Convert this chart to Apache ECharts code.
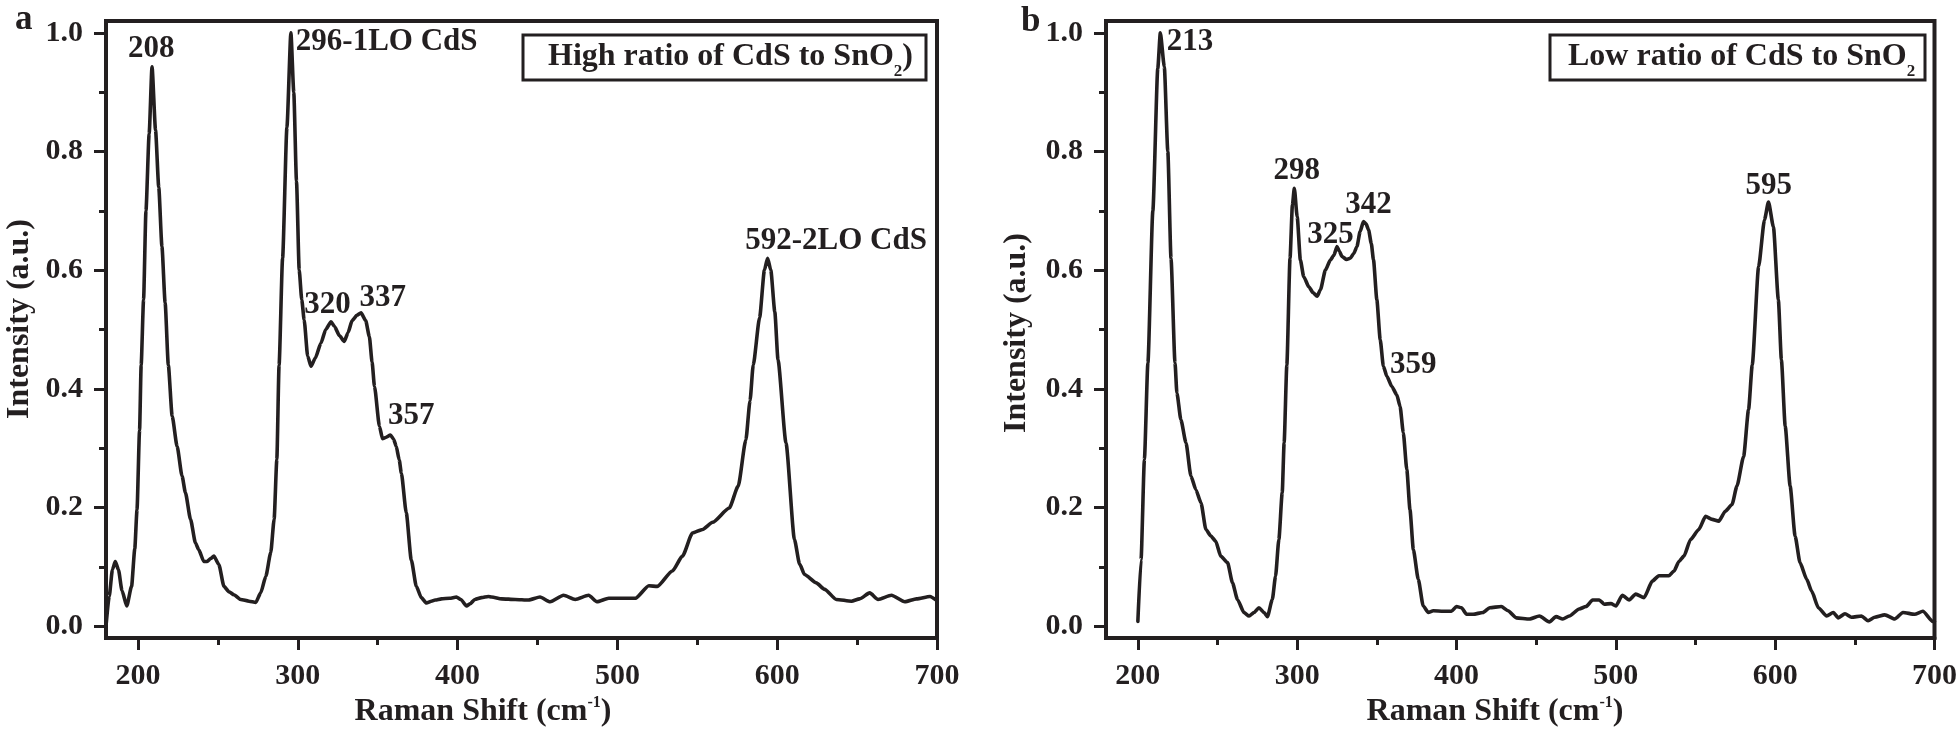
<!DOCTYPE html>
<html>
<head>
<meta charset="utf-8">
<script src="https://cdn.jsdelivr.net/npm/echarts@6/dist/echarts.min.js"></script>
<style>html,body{margin:0;padding:0;background:#fff}#c{width:1960px;height:732px}</style>
</head>
<body>
<div id="c"></div>
<script>
// ---------- data (Raman shift cm^-1, normalized intensity) ----------
const spectrumA = [[180,0.0],[182,0.05],[184,0.095],[185.8,0.109],[187.8,0.095],[190,0.06],[193,0.034],[196,0.067],[198,0.13],[199.4,0.196],[201,0.33],[202,0.44],[203.5,0.55],[205,0.70],[207,0.83],[208.8,0.943],[211,0.836],[213,0.74],[215,0.64],[217,0.545],[219,0.44],[221.4,0.354],[224.5,0.303],[227.6,0.253],[229.7,0.225],[232.9,0.18],[236,0.14],[238,0.129],[241.2,0.109],[243.3,0.109],[245.5,0.114],[247.5,0.118],[250.6,0.104],[253.8,0.067],[257,0.058],[260,0.053],[264.3,0.045],[269.5,0.042],[273.7,0.040],[276.8,0.056],[280,0.084],[283.1,0.124],[285.2,0.18],[286.9,0.281],[288.3,0.44],[290.5,0.62],[293.2,0.84],[295.7,1.0],[297.5,0.90],[299.2,0.75],[300.9,0.60],[302.5,0.55],[304,0.516],[306.2,0.455],[308.3,0.438],[311,0.452],[314.5,0.477],[317.5,0.50],[320.8,0.513],[323,0.505],[326,0.49],[329.1,0.48],[331.5,0.495],[334,0.515],[337,0.524],[339.6,0.528],[342.5,0.515],[344.8,0.488],[346.5,0.445],[348,0.404],[351.1,0.337],[353,0.316],[355,0.318],[358,0.322],[360,0.315],[361.6,0.303],[363.5,0.28],[364.8,0.258],[367.9,0.191],[371,0.112],[374.2,0.067],[377.3,0.048],[380.5,0.039],[383.6,0.042],[386,0.044],[389.9,0.046],[395,0.047],[399.3,0.049],[402,0.045],[405.6,0.034],[408,0.038],[410.8,0.045],[415,0.048],[419.2,0.050],[421.3,0.049],[427.6,0.046],[436,0.045],[444.4,0.044],[451.6,0.049],[457.9,0.041],[466.3,0.052],[473.6,0.045],[482,0.052],[487.2,0.041],[494.6,0.047],[505,0.047],[511.3,0.047],[519.7,0.068],[525,0.067],[534.4,0.093],[540.7,0.118],[547,0.157],[553.3,0.163],[559.6,0.175],[570,0.199],[575.6,0.236],[580.4,0.314],[583,0.38],[585,0.44],[589,0.52],[592,0.60],[594,0.62],[596,0.60],[598.5,0.53],[600.5,0.449],[605.5,0.309],[610.8,0.146],[614,0.105],[617.1,0.087],[624.4,0.073],[629.7,0.062],[637,0.045],[646.5,0.042],[651.6,0.046],[657.9,0.056],[663.1,0.045],[671.5,0.052],[679.9,0.041],[687.2,0.046],[695.6,0.050],[700,0.043]];

const spectrumB = [[200,0.008],[202,0.112],[204.1,0.281],[206.3,0.444],[209.4,0.70],[212.5,0.94],[214.1,1.0],[216.6,0.943],[218.8,0.80],[220.8,0.62],[223.3,0.444],[224.5,0.393],[227,0.348],[230.2,0.309],[233.3,0.253],[236.4,0.23],[239.6,0.208],[242.7,0.163],[245.8,0.152],[248.9,0.143],[252,0.118],[256.3,0.107],[259.4,0.073],[262.5,0.045],[266.6,0.023],[269.8,0.017],[272.9,0.023],[276,0.031],[279.2,0.023],[281.3,0.016],[284.4,0.045],[286.4,0.084],[288.5,0.146],[290.6,0.225],[291.8,0.309],[293.5,0.44],[295.5,0.62],[297,0.71],[298.2,0.738],[300,0.69],[302,0.617],[304.1,0.589],[307.3,0.572],[310,0.562],[312.5,0.556],[314.6,0.567],[317.7,0.60],[320.8,0.617],[323,0.625],[325,0.64],[326.5,0.632],[328.1,0.623],[331,0.618],[333.3,0.620],[335.5,0.628],[337.5,0.64],[339.5,0.665],[341.6,0.682],[343.2,0.678],[344.8,0.668],[346.5,0.645],[347.9,0.617],[350,0.55],[352.1,0.483],[354.1,0.438],[356.3,0.421],[359.4,0.404],[362.5,0.39],[364.6,0.37],[366.6,0.326],[368.8,0.264],[370.8,0.196],[372.9,0.129],[376,0.079],[379.1,0.034],[382.3,0.023],[385.4,0.026],[391.6,0.025],[396.8,0.025],[400,0.033],[403.1,0.031],[406.3,0.02],[410.4,0.02],[416.6,0.023],[420.8,0.031],[428.1,0.033],[432.3,0.026],[437.5,0.014],[445.8,0.012],[452,0.017],[458.3,0.007],[462.5,0.016],[466.7,0.012],[470.8,0.017],[477,0.029],[481.3,0.033],[485.4,0.044],[489.6,0.044],[492.7,0.037],[496.9,0.038],[500,0.034],[504.1,0.052],[508.3,0.044],[512.5,0.054],[517.7,0.048],[522.9,0.076],[527,0.085],[533.3,0.085],[536.5,0.093],[539.6,0.109],[542.7,0.118],[546.9,0.146],[552.1,0.163],[556.3,0.185],[560.4,0.18],[564.6,0.177],[568.8,0.194],[572.9,0.205],[576,0.236],[580.2,0.286],[583.3,0.365],[585.6,0.44],[589.6,0.606],[593.3,0.685],[595.8,0.715],[598.9,0.673],[602,0.55],[603.9,0.449],[606.3,0.337],[609.4,0.236],[612.5,0.152],[615.6,0.107],[619.8,0.079],[622.9,0.059],[627.1,0.031],[632.3,0.017],[636.5,0.023],[639.6,0.014],[643.8,0.021],[647.9,0.015],[654.2,0.017],[658.3,0.009],[662.5,0.015],[668.8,0.019],[675,0.012],[680.2,0.023],[687.5,0.02],[692.7,0.025],[698.9,0.008],[700,0.008]];

// peak annotations: [text, shift, intensity] (anchor of the label's left edge)
const peaksA = [['208',193.7,0.973],['296-1LO CdS',298.8,0.985],['320',304.0,0.542],['337',338.6,0.553],['357',356.4,0.355],['592-2LO CdS',580.0,0.650]];
const peaksB = [['213',218.1,0.984],['298',285.2,0.767],['325',306.3,0.659],['342',330.2,0.710],['359',358.3,0.441],['595',581.3,0.742]];

const xMajorTicks = [200,300,400,500,600,700];
const xMinorTicks = [250,350,450,550,650];
const yMajorTicks = [0,0.2,0.4,0.6,0.8,1.0];
const yMinorTicks = [0.1,0.3,0.5,0.7,0.9];

const panelLetters = ['a','b'];
const legendTexts = ['High ratio of CdS to SnO{sub|2})','Low ratio of CdS to SnO{sub|2}'];
const xTitle = 'Raman Shift (cm{sup|-1})';
const yTitle = 'Intensity (a.u.)';

// ---------- styling ----------
const INK = '#231f20';
const FONT = '"Times New Roman", "Liberation Serif", serif';
const gridsPx = [{left:106, top:21, width:831, height:617},{left:1106, top:21, width:831, height:617}];

const chart = echarts.init(document.getElementById('c'), null, {renderer:'canvas'});

const xAxes = [], yAxes = [], series = [];
gridsPx.forEach((g, gi) => {
  xAxes.push({gridIndex:gi, type:'value', min:180, max:700, position:'bottom',
    axisLine:{show:true, onZero:false, lineStyle:{color:INK, width:4}},
    axisTick:{show:true, inside:false, length:12, customValues:xMajorTicks, lineStyle:{color:INK, width:3}},
    axisLabel:{show:true, customValues:xMajorTicks, margin:23, fontSize:30, fontWeight:'bold', fontFamily:FONT, color:INK},
    splitLine:{show:false}});
  xAxes.push({gridIndex:gi, type:'value', min:180, max:700, position:'bottom',
    axisLine:{show:false, onZero:false},
    axisTick:{show:true, inside:false, length:7, customValues:xMinorTicks, lineStyle:{color:INK, width:3}},
    axisLabel:{show:false}, splitLine:{show:false}});
  yAxes.push({gridIndex:gi, type:'value', min:-0.02, max:1.02, position:'left',
    axisLine:{show:true, onZero:false, lineStyle:{color:INK, width:4}},
    axisTick:{show:true, inside:false, length:12, customValues:yMajorTicks, lineStyle:{color:INK, width:3}},
    axisLabel:{show:true, customValues:yMajorTicks, margin:23, fontSize:30, fontWeight:'bold', fontFamily:FONT, color:INK,
      formatter:v => Number(v).toFixed(1)},
    splitLine:{show:false}});
  yAxes.push({gridIndex:gi, type:'value', min:-0.02, max:1.02, position:'left',
    axisLine:{show:false, onZero:false},
    axisTick:{show:true, inside:false, length:7, customValues:yMinorTicks, lineStyle:{color:INK, width:3}},
    axisLabel:{show:false}, splitLine:{show:false}});
});

[[spectrumA, peaksA],[spectrumB, peaksB]].forEach(([spec, peaks], gi) => {
  series.push({type:'line', xAxisIndex:gi*2, yAxisIndex:gi*2, data:spec, symbol:'none',
    smooth:0.2, smoothMonotone:'x', lineStyle:{color:INK, width:3.6, join:'round', cap:'round'}, silent:true,
    markPoint:{symbol:'circle', symbolSize:0, silent:true,
      label:{show:true, position:'right', distance:0, formatter:'{b}', fontSize:31, fontWeight:'bold', fontFamily:FONT, color:INK},
      data:peaks.map(p => ({name:p[0], coord:[p[1], p[2]]}))}});
});

const textStyleBase = {fontFamily:FONT, fontWeight:'bold', fill:INK};
const graphics = [];
// panel letters
graphics.push({type:'text', x:15, y:19.5, style:Object.assign({text:panelLetters[0], fontSize:35, align:'left', verticalAlign:'middle'}, textStyleBase)});
graphics.push({type:'text', x:1021, y:21.5, style:Object.assign({text:panelLetters[1], fontSize:35, align:'left', verticalAlign:'middle'}, textStyleBase)});
// legend boxes
const boxes = [{x:523, y:35, w:403, h:45, tx:548},{x:1550, y:35, w:375, h:45, tx:1568}];
boxes.forEach((b, i) => {
  graphics.push({type:'rect', shape:{x:b.x, y:b.y, width:b.w, height:b.h}, style:{fill:'#fff', stroke:INK, lineWidth:3}, z:10});
  graphics.push({type:'text', x:b.tx, y:57, z:11, style:Object.assign({text:legendTexts[i], fontSize:32, align:'left', verticalAlign:'middle',
    rich:{sub:{fontSize:17, fontFamily:FONT, fontWeight:'bold', fill:INK, padding:[30,0,0,0]}}}, textStyleBase)});
});
// axis titles
[483, 1495].forEach(cx => {
  graphics.push({type:'text', x:cx, y:712, style:Object.assign({text:xTitle, fontSize:32, align:'center', verticalAlign:'middle',
    rich:{sup:{fontSize:16, fontFamily:FONT, fontWeight:'bold', fill:INK, padding:[0,0,18,0]}}}, textStyleBase)});
});
[[20.2, 319],[1017, 333]].forEach(([cx, cy]) => {
  graphics.push({type:'text', x:cx, y:cy, rotation:Math.PI/2, style:Object.assign({text:yTitle, fontSize:32, align:'center', verticalAlign:'middle'}, textStyleBase)});
});

chart.setOption({
  animation:false,
  backgroundColor:'#ffffff',
  grid:gridsPx.map(g => Object.assign({show:true, borderColor:INK, borderWidth:4, backgroundColor:'transparent', containLabel:false}, g)),
  xAxis:xAxes,
  yAxis:yAxes,
  series:series,
  graphic:graphics
});
</script>
</body>
</html>
